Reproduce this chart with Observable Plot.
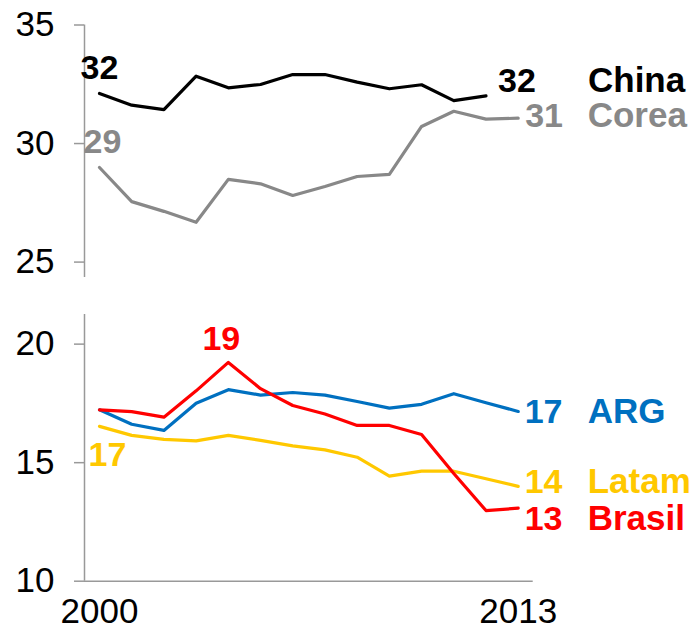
<!DOCTYPE html>
<html>
<head>
<meta charset="utf-8">
<script src="https://cdn.jsdelivr.net/npm/d3@7"></script>
<script src="https://cdn.jsdelivr.net/npm/@observablehq/plot@0.6"></script>
<style>
  html, body { margin: 0; padding: 0; background: #fff; }
  #chart { width: 691px; height: 627px; overflow: hidden; }
  #chart svg { display: block; }
</style>
</head>
<body>
<div id="chart"></div>
<script>
// ---- data ----
const years = [2000, 2001, 2002, 2003, 2004, 2005, 2006, 2007, 2008, 2009, 2010, 2011, 2012, 2013];
const china  = [32.11, 31.62, 31.43, 32.84, 32.35, 32.49, 32.91, 32.91, 32.59, 32.31, 32.48, 31.81, 32.01, null];
const corea  = [28.99, 27.55, 27.14, 26.68, 28.49, 28.30, 27.81, 28.19, 28.61, 28.70, 30.72, 31.36, 31.03, 31.07];
const arg    = [17.23, 16.62, 16.36, 17.51, 18.08, 17.85, 17.96, 17.85, 17.58, 17.30, 17.46, 17.91, 17.53, 17.16];
const brasil = [17.23, 17.15, 16.92, 18.03, 19.23, 18.12, 17.41, 17.05, 16.57, 16.57, 16.19, 14.54, 12.98, 13.08];
const latam  = [16.53, 16.15, 15.98, 15.92, 16.15, 15.94, 15.71, 15.54, 15.23, 14.43, 14.64, 14.64, 14.32, 14.00];
const topTicks = [25, 30, 35];
const bottomTicks = [10, 15, 20];
const xTicks = [2000, 2013];

// ---- styles ----
const colors = { China: "#000000", Corea: "#888888", ARG: "#0070c0", Latam: "#ffc800", Brasil: "#ff0000" };
const axisGray = "#999999";
const font = "'Liberation Sans', Arial, sans-serif";

const rows = (name, vals) => vals.map((v, i) => ({ series: name, year: years[i], value: v })).filter(d => d.value != null);
const topData = [...rows("China", china), ...rows("Corea", corea)];
const bottomData = [...rows("ARG", arg), ...rows("Latam", latam), ...rows("Brasil", brasil)];
const last = (data, s) => data.filter(d => d.series === s).slice(-1);
const first = (data, s) => data.filter(d => d.series === s).slice(0, 1);
const maxOf = (data, s) => { const f = data.filter(d => d.series === s); return [f[d3.maxIndex(f, d => d.value)]]; };

const common = {
  width: 691,
  marginLeft: 84,
  marginRight: 158.3,
  style: { fontFamily: font, background: "transparent", overflow: "visible", color: "black" }
};
const valLabel = (data, opts) => Plot.text(data, {
  x: "year", y: "value", text: d => String(Math.round(d.value)),
  fill: d => colors[d.series], fontSize: 34, fontWeight: "bold", ...opts
});
const nameLabel = (data, opts) => Plot.text(data, {
  x: "year", y: "value", text: "series",
  fill: d => colors[d.series], fontSize: 35, fontWeight: "bold", textAnchor: "start", ...opts
});
const yAxis = (ticks) => Plot.axisY({ ticks, tickSize: 10, tickPadding: 20, stroke: axisGray, strokeWidth: 1.5,
  fill: "black", fontSize: 35, label: null, tickFormat: d => String(d) });
// vertical axis line at the left edge of the frame (x inset is 15px)
const yLine = Plot.ruleX([years[0]], { dx: -15, stroke: axisGray, strokeWidth: 1.5 });

const topPlot = Plot.plot({
  ...common,
  height: 300,
  marginTop: 24.5,
  marginBottom: 23,
  x: { domain: [2000, 2013], insetLeft: 15, insetRight: 15, axis: null },
  y: { domain: [24.35, 35] },
  marks: [
    yAxis(topTicks),
    yLine,
    Plot.line(topData, { x: "year", y: "value", z: "series", stroke: d => colors[d.series], strokeWidth: 3.2 }),
    valLabel(first(topData, "China"), { dy: -25.5 }),
    valLabel(first(topData, "Corea"), { dy: -25, dx: 3 }),
    valLabel(last(topData, "China"), { dy: -15, dx: 12, textAnchor: "start" }),
    valLabel(last(topData, "Corea"), { dy: -2, dx: 7, textAnchor: "start" }),
    nameLabel(last(topData, "China"), { dy: -15, dx: 102 }),
    nameLabel(last(topData, "Corea"), { dy: -2, dx: 69.5 })
  ]
});

const bottomPlot = Plot.plot({
  ...common,
  height: 327,
  marginTop: 14,
  marginBottom: 46.3,
  x: { domain: [2000, 2013], insetLeft: 15, insetRight: 15 },
  y: { domain: [10, 21.25] },
  marks: [
    yAxis(bottomTicks),
    yLine,
    Plot.ruleY([bottomTicks[0]], { stroke: axisGray, strokeWidth: 1.5 }),
    Plot.axisX({ ticks: xTicks, tickSize: 0, tickPadding: 17, fill: "black",
                 fontSize: 35, label: null, tickFormat: d => String(d) }),
    Plot.line(bottomData, { x: "year", y: "value", z: "series", stroke: d => colors[d.series], strokeWidth: 3.2 }),
    valLabel(maxOf(bottomData, "Brasil"), { dy: -23.5, dx: -7 }),
    valLabel(first(bottomData, "Latam"), { dy: 29, dx: 8 }),
    valLabel(last(bottomData, "ARG"), { dy: 0.5, dx: 6.5, textAnchor: "start" }),
    valLabel(last(bottomData, "Latam"), { dy: -4.5, dx: 6.5, textAnchor: "start" }),
    valLabel(last(bottomData, "Brasil"), { dy: 11, dx: 6.5, textAnchor: "start" }),
    nameLabel(last(bottomData, "ARG"), { dy: 0.5, dx: 69.5 }),
    nameLabel(last(bottomData, "Latam"), { dy: -4.5, dx: 69.5 }),
    nameLabel(last(bottomData, "Brasil"), { dy: 11, dx: 69.5 })
  ]
});

const chart = document.getElementById("chart");
chart.appendChild(topPlot);
chart.appendChild(bottomPlot);
</script>
</body>
</html>
